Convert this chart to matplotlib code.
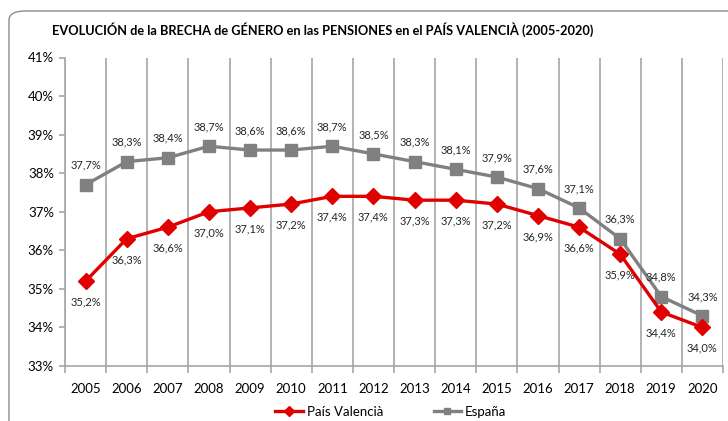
import numpy as np
from matplotlib import pyplot as plt
from matplotlib.patches import FancyBboxPatch
from matplotlib.lines import Line2D

years = [str(y) for y in range(2005, 2021)]
pais_valencia = [35.2, 36.3, 36.6, 37.0, 37.1, 37.2, 37.4, 37.4, 37.3, 37.3, 37.2, 36.9, 36.6, 35.9, 34.4, 34.0]
espana = [37.7, 38.3, 38.4, 38.7, 38.6, 38.6, 38.7, 38.5, 38.3, 38.1, 37.9, 37.6, 37.1, 36.3, 34.8, 34.3]
y_ticks = list(range(33, 42))

title = 'EVOLUCIÓN de la BRECHA de GÉNERO en las PENSIONES en el PAÍS VALENCIÀ (2005-2020)'
red = '#E00000'
grey = '#808080'
grid_c = '#A6A6A6'

plt.rcParams['font.family'] = ['Lato', 'DejaVu Sans']

fig = plt.figure(figsize=(7.28, 4.21), dpi=100)

# chart frame (rounded, cut by the figure edges)
frame = FancyBboxPatch((9 / 728, -0.2), 1.2, 1.2 - 11 / 421,
                       boxstyle='round,pad=0,rounding_size=0.022',
                       transform=fig.transFigure, fill=False,
                       edgecolor='#8C8C8C', linewidth=1.0)
fig.patches.append(frame)

fig.text(52 / 728, 1 - 30 / 421, title, fontsize=9.2, fontweight='bold',
         va='center', ha='left')

ax = fig.add_axes([65 / 728, 1 - 366 / 421, (723 - 65) / 728, (366 - 57.5) / 421])
x = np.arange(len(years))

for b in np.arange(-0.5, len(years), 1.0):
    ax.axvline(b, color=grid_c, linewidth=1.2, zorder=1)

ax.plot(x, espana, color=grey, linewidth=2.4, marker='s', markersize=9,
        zorder=3, label='España')
ax.plot(x, pais_valencia, color=red, linewidth=2.4, marker='D', markersize=8,
        zorder=4, label='País Valencià')

for xi, v in zip(x, espana):
    ax.annotate(f'{v:.1f}%'.replace('.', ','), (xi, v), textcoords='offset points',
                xytext=(0, 14), ha='center', va='center', fontsize=8, color='#262626')
for xi, v in zip(x, pais_valencia):
    ax.annotate(f'{v:.1f}%'.replace('.', ','), (xi, v), textcoords='offset points',
                xytext=(0, -15), ha='center', va='center', fontsize=8, color='#262626')

ax.set_xlim(-0.5, len(years) - 0.5)
ax.set_ylim(33, 41)
ax.set_yticks(y_ticks)
ax.set_yticklabels([f'{t}%' for t in y_ticks], fontsize=9.5)
ax.set_xticks(x)
ax.set_xticklabels(years, fontsize=9.5)
ax.set_xticks(np.arange(-0.5, len(years), 1.0), minor=True)
ax.tick_params(axis='x', which='major', length=0, pad=12)
ax.tick_params(axis='x', which='minor', length=5, color=grid_c, width=1.2)
ax.tick_params(axis='y', length=4, color=grid_c, width=1.2, pad=4)

for s in ['top', 'right']:
    ax.spines[s].set_visible(False)
ax.spines['left'].set_color(grid_c)
ax.spines['left'].set_linewidth(1.2)
ax.spines['bottom'].set_color(grid_c)
ax.spines['bottom'].set_linewidth(1.2)

handles = [Line2D([], [], color=red, linewidth=2.4, marker='D', markersize=5),
           Line2D([], [], color=grey, linewidth=2.4, marker='s', markersize=5)]
fig.legend(handles, ['País Valencià', 'España'], loc='center',
           bbox_to_anchor=(391 / 728, 1 - 412 / 421), ncol=2, frameon=False,
           fontsize=9.5, handlelength=2.1, handletextpad=0.3, columnspacing=3.8,
           borderpad=0.2)

fig.savefig('out.png', dpi=100)
